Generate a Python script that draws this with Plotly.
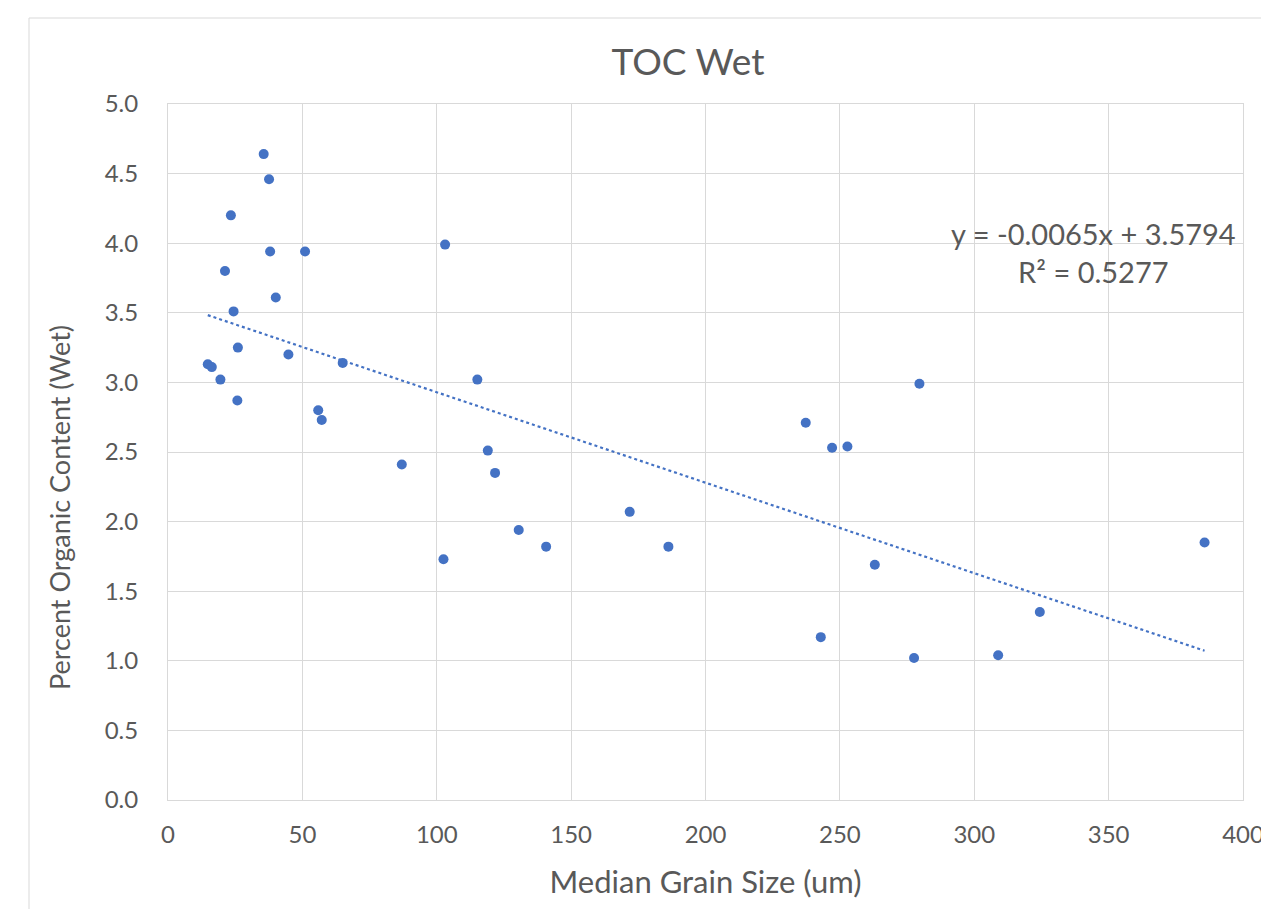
import plotly.graph_objects as go
import numpy as np

# Median grain size (um) and percent organic content (wet)
grain_size = [35.6, 37.6, 23.4, 38.0, 51.0, 21.2, 40.1, 24.4, 26.0, 44.8,
              14.8, 16.3, 19.5, 25.8, 65.0, 55.9, 57.2,
              103.1, 115.1, 119.0, 121.7, 87.0, 130.5, 140.7, 102.5, 171.8, 186.2,
              279.6, 237.3, 247.1, 252.8, 263.0, 385.7, 324.4, 242.9, 277.6, 308.9]
organic = [4.64, 4.46, 4.20, 3.94, 3.94, 3.80, 3.61, 3.51, 3.25, 3.20,
           3.13, 3.11, 3.02, 2.87, 3.14, 2.80, 2.73,
           3.99, 3.02, 2.51, 2.35, 2.41, 1.94, 1.82, 1.73, 2.07, 1.82,
           2.99, 2.71, 2.53, 2.54, 1.69, 1.85, 1.35, 1.17, 1.02, 1.04]

slope = -0.0065
intercept = 3.5794
r_squared = 0.5277

x_ticks = [0, 50, 100, 150, 200, 250, 300, 350, 400]
y_ticks = [0.0, 0.5, 1.0, 1.5, 2.0, 2.5, 3.0, 3.5, 4.0, 4.5, 5.0]

FONT = "Lato"
GRAY = "#595959"
GRID = "#d9d9d9"
BLUE = "#4472C4"

trend_x = np.array([min(grain_size), max(grain_size)])
trend_y = slope * trend_x + intercept

fig = go.Figure()
fig.add_trace(go.Scatter(x=list(trend_x), y=list(trend_y), mode="lines",
                         line=dict(color=BLUE, width=2.2, dash="dot"),
                         showlegend=False, hoverinfo="skip"))
fig.add_trace(go.Scatter(x=grain_size, y=organic, mode="markers",
                         marker=dict(color=BLUE, size=10),
                         showlegend=False))

# body margin is removed in the page (post_script), so pixels map 1:1
W, H = 1261, 909
PL, PR, PT, PB = 168, 1243, 104, 800


def px_x(p):
    return (p - PL) / (PR - PL)


def px_y(p):
    return (PB - p) / (PB - PT)


fig.update_layout(
    width=W, height=H,
    paper_bgcolor="white", plot_bgcolor="white",
    margin=dict(l=PL, r=W - PR, t=PT, b=H - PB, pad=0, autoexpand=False),
    font=dict(family=FONT, color=GRAY),
    title=dict(text="TOC Wet", x=688 / W, xref="container", xanchor="center",
               y=1 - 62 / H, yref="container", yanchor="middle",
               font=dict(size=37, color=GRAY, family=FONT)),
    showlegend=False,
)

fig.update_xaxes(range=[0, 400], tickvals=x_ticks, ticktext=[str(v) for v in x_ticks],
                 showgrid=True, gridcolor=GRID, gridwidth=1,
                 showline=True, linecolor=GRID, linewidth=1, mirror=True,
                 zeroline=False, ticks="", ticklabelstandoff=13,
                 ticklabeloverflow="allow", automargin=False,
                 tickfont=dict(size=24, color=GRAY, family=FONT),
                 title=dict(text="Median Grain Size (um)", standoff=24,
                            font=dict(size=31, color=GRAY, family=FONT)))
fig.update_yaxes(range=[0, 5], tickvals=y_ticks, ticktext=[f"{v:.1f}" for v in y_ticks],
                 showgrid=True, gridcolor=GRID, gridwidth=1,
                 showline=True, linecolor=GRID, linewidth=1, mirror=True,
                 zeroline=False, ticks="", ticklabelstandoff=24, automargin=False,
                 tickfont=dict(size=24, color=GRAY, family=FONT))

# y-axis title (placed as in the reference, slightly below plot centre)
fig.add_annotation(text="Percent Organic Content (Wet)", textangle=-90,
                   xref="paper", yref="paper", x=px_x(59), y=px_y(508),
                   xanchor="center", yanchor="middle", showarrow=False,
                   font=dict(size=27, color=GRAY, family=FONT))

# equation annotation
fig.add_annotation(text=f"y = {slope}x + {intercept}<br>R² = {r_squared}",
                   xref="paper", yref="paper",
                   x=px_x(1093), y=px_y(253),
                   xanchor="center", yanchor="middle", showarrow=False, align="center",
                   font=dict(size=29, color=GRAY, family=FONT))

# chart area border (extends beyond picture on right and bottom)
fig.add_shape(type="rect", xref="paper", yref="paper",
              x0=px_x(29), x1=1.2,
              y0=-0.3, y1=px_y(18),
              line=dict(color=GRID, width=1), fillcolor="rgba(0,0,0,0)", layer="below")

fig.write_html("out.html",
               config={"displayModeBar": False},
               post_script="document.body.style.margin='0';"
                           "document.body.style.overflow='hidden';")
